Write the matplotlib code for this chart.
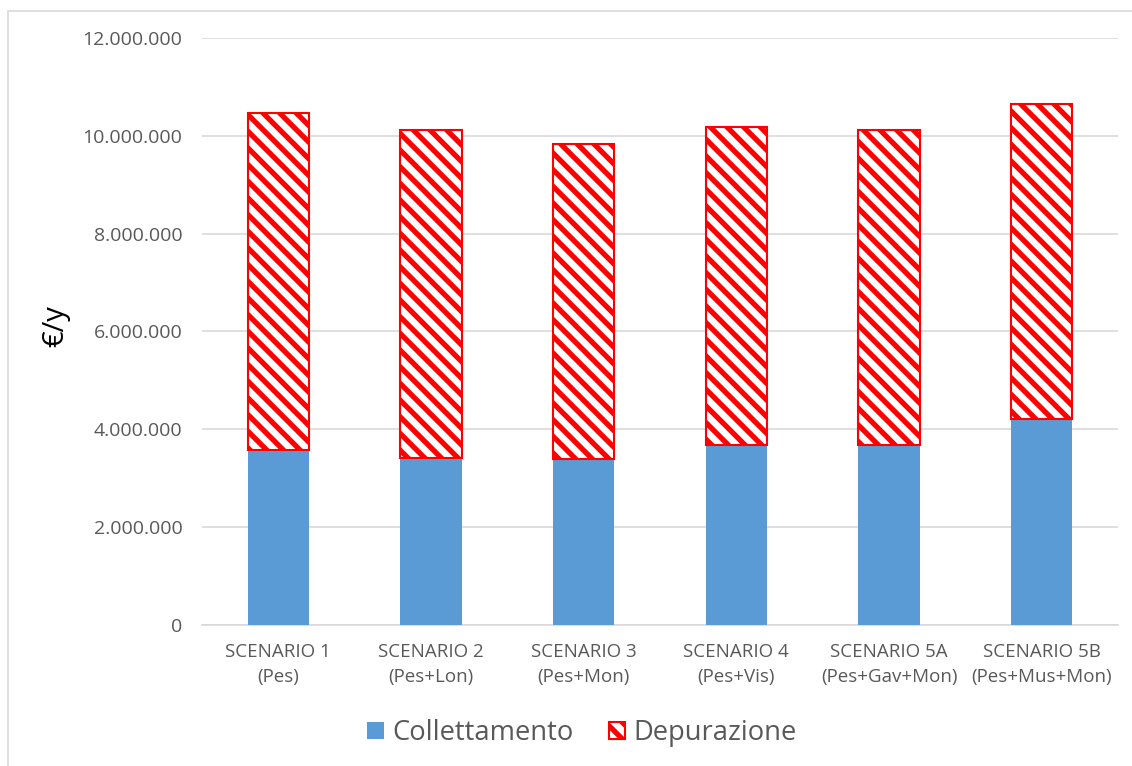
import matplotlib
matplotlib.use("Agg")
import matplotlib.pyplot as plt
from matplotlib.patches import Rectangle, Patch
from matplotlib.ticker import FuncFormatter
import numpy as np

# Annual costs per scenario (€/y)
scenarios = ["SCENARIO 1\n(Pes)", "SCENARIO 2\n(Pes+Lon)", "SCENARIO 3\n(Pes+Mon)",
             "SCENARIO 4\n(Pes+Vis)", "SCENARIO 5A\n(Pes+Gav+Mon)", "SCENARIO 5B\n(Pes+Mus+Mon)"]
collettamento = [3580000, 3410000, 3390000, 3680000, 3680000, 4220000]
depurazione = [6890000, 6710000, 6440000, 6500000, 6440000, 6430000]
yticks = [0, 2000000, 4000000, 6000000, 8000000, 10000000, 12000000]

BLUE = "#5B9BD5"
RED = "#FF0000"
GRAY = "#595959"

plt.rcParams["font.family"] = ["Open Sans", "DejaVu Sans"]
plt.rcParams["hatch.linewidth"] = 3.8
plt.rcParams["hatch.color"] = RED

W, H = 1132, 766
fig = plt.figure(figsize=(W / 100, H / 100), dpi=100)
ax = fig.add_axes([202 / W, 1 - 625 / H, (1118 - 202) / W, (625 - 38) / H])

x = np.arange(len(scenarios))
width = 0.40
ax.bar(x, collettamento, width, color=BLUE, edgecolor="none", zorder=3)
ax.bar(x, depurazione, width, bottom=collettamento, facecolor="white",
       edgecolor=RED, hatch="\\\\", linewidth=1.5, zorder=3)

ax.set_xlim(-0.5, len(scenarios) - 0.5)
ax.set_ylim(0, 12000000)
ax.set_yticks(yticks)
fmt = lambda v, p: "0" if v == 0 else f"{int(v):,}".replace(",", ".")
ax.yaxis.set_major_formatter(FuncFormatter(fmt))
ax.set_xticks(x)
ax.set_xticklabels(scenarios, fontsize=13.5, color=GRAY, linespacing=1.5)
ax.tick_params(axis="y", labelsize=14, colors=GRAY, length=0, pad=14)
ax.tick_params(axis="x", length=0, pad=13)
ax.yaxis.grid(True, color="#D9D9D9", linewidth=1.2, zorder=0)
for s in ["top", "right", "left"]:
    ax.spines[s].set_visible(False)
ax.spines["bottom"].set_color("#D9D9D9")
ax.spines["bottom"].set_linewidth(1.2)
ax.set_ylabel("€/y", fontsize=21, color="black")
ax.yaxis.set_label_coords((70 - 202) / 916, 0.51)

handles = [Patch(facecolor=BLUE, edgecolor="none", label="Collettamento"),
           Patch(facecolor="white", edgecolor=RED, hatch="\\\\", linewidth=1.5, label="Depurazione")]
fig.legend(handles=handles, loc="center", bbox_to_anchor=(582 / W, 1 - 733 / H),
           ncol=2, frameon=False, fontsize=19.7, labelcolor=GRAY,
           handlelength=0.6, handleheight=0.6, handletextpad=0.3, columnspacing=1.3)

# chart frame
fig.patches.append(Rectangle((8 / W, -0.05), 1.1, 1 - 11 / H + 0.05, transform=fig.transFigure,
                             facecolor="none", edgecolor="#D9D9D9", linewidth=1.2))

fig.savefig("out.png", dpi=100)
